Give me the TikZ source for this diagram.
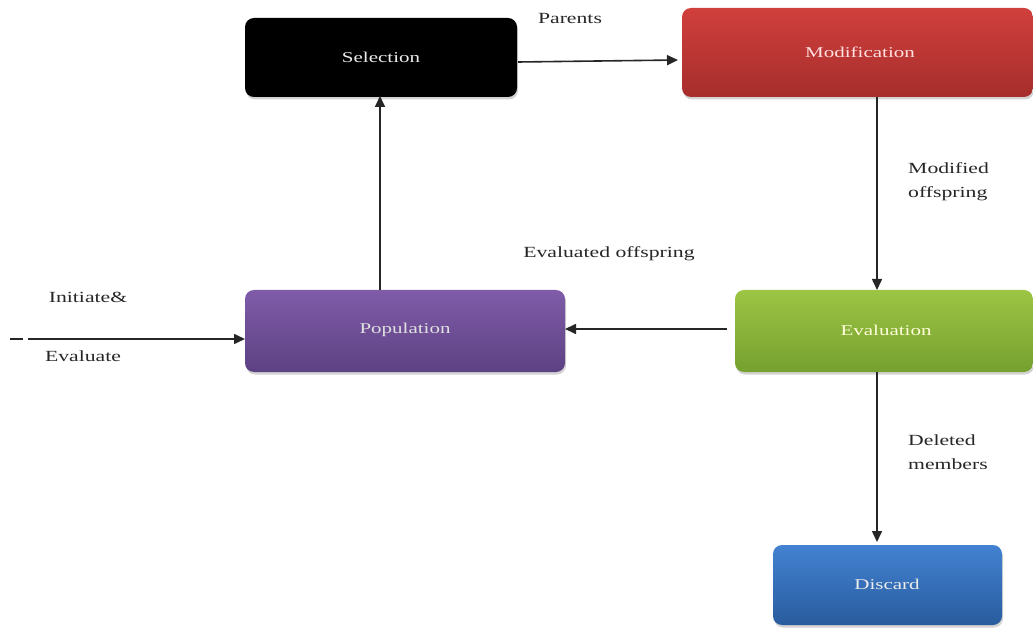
\documentclass[tikz,border=0pt]{standalone}
\usepackage{fontspec}
\setmainfont[FakeStretch=1.4]{Liberation Serif}
\usetikzlibrary{arrows.meta,shadows}
\definecolor{redtop}{HTML}{D03F3C}
\definecolor{redbot}{HTML}{A62E2C}
\definecolor{purtop}{HTML}{805CA8}
\definecolor{purbot}{HTML}{5C4183}
\definecolor{grntop}{HTML}{9CC544}
\definecolor{grnbot}{HTML}{76A02F}
\definecolor{blutop}{HTML}{4382D2}
\definecolor{blubot}{HTML}{295C9E}
\begin{document}
\begin{tikzpicture}[x=1pt,y=-1pt,
  box/.style={rounded corners=9pt, draw=none,
    drop shadow={shadow xshift=1pt, shadow yshift=-2.5pt, opacity=0.35}},
  btxt/.style={font=\fontsize{15}{17}\selectfont},
  lbl/.style={font=\fontsize{15.5}{24}\selectfont, text=black!85, inner sep=0pt},
  arr/.style={-{Triangle[length=11pt,width=10pt]}, line width=1.6pt, black!85}]
\useasboundingbox (0,0) rectangle (1033,628);
\path[box, fill=black] (245,18) rectangle (517,97);
\node[btxt, text=white!92!black] (sel) at (381,57.5) {Selection};
\path[box, top color=redtop, bottom color=redbot] (682,8) rectangle (1033,97);
\node[btxt, text=white!88!red] (mod) at (860,52) {Modification};
\path[box, top color=purtop, bottom color=purbot] (245,290) rectangle (565,372);
\node[btxt, text=white!88!black] (pop) at (405,330) {Population};
\path[box, top color=grntop, bottom color=grnbot] (735,290) rectangle (1033,372);
\node[btxt, text=white!85!yellow] (eva) at (886,330) {Evaluation};
\path[box, top color=blutop, bottom color=blubot] (773,545) rectangle (1002,625);
\node[btxt, text=white!92!black] (dis) at (887,584) {Discard};
% anchor coordinates on box edges
\coordinate (selR) at (518,62);
\coordinate (modL) at (678,60);
\coordinate (selBot) at (380,96);
\coordinate (popTop) at (380,290);
\coordinate (modBot) at (877,97);
\coordinate (evaTop) at (877,290);
\coordinate (evaL) at (727,329);
\coordinate (popR) at (565,329);
\coordinate (evaBot) at (877,372);
\coordinate (disTop) at (877,542);
\coordinate (start) at (10,339);
\coordinate (popL) at (245,339);
\draw[arr] (selR) -- (modL);
\draw[arr] (popTop) -- (selBot);
\draw[arr] (modBot) -- (evaTop);
\draw[arr] (evaL) -- (popR);
\draw[arr] (evaBot) -- (disTop);
\draw[arr, dash pattern=on 13pt off 5pt on 1000pt] (start) -- (popL);
\node[lbl] (lpar) at (570,19) {Parents};
\node[lbl, align=left, anchor=west] (lmod) at (908,182) {Modified\\offspring};
\node[lbl] (leva) at (609,254) {Evaluated offspring};
\node[lbl, align=left, anchor=west] (ldel) at (908,452) {Deleted\\members};
\node[lbl] (lini) at (88,297) {Initiate\&};
\node[lbl] (lev) at (83,356) {Evaluate};
\end{tikzpicture}
\end{document}
